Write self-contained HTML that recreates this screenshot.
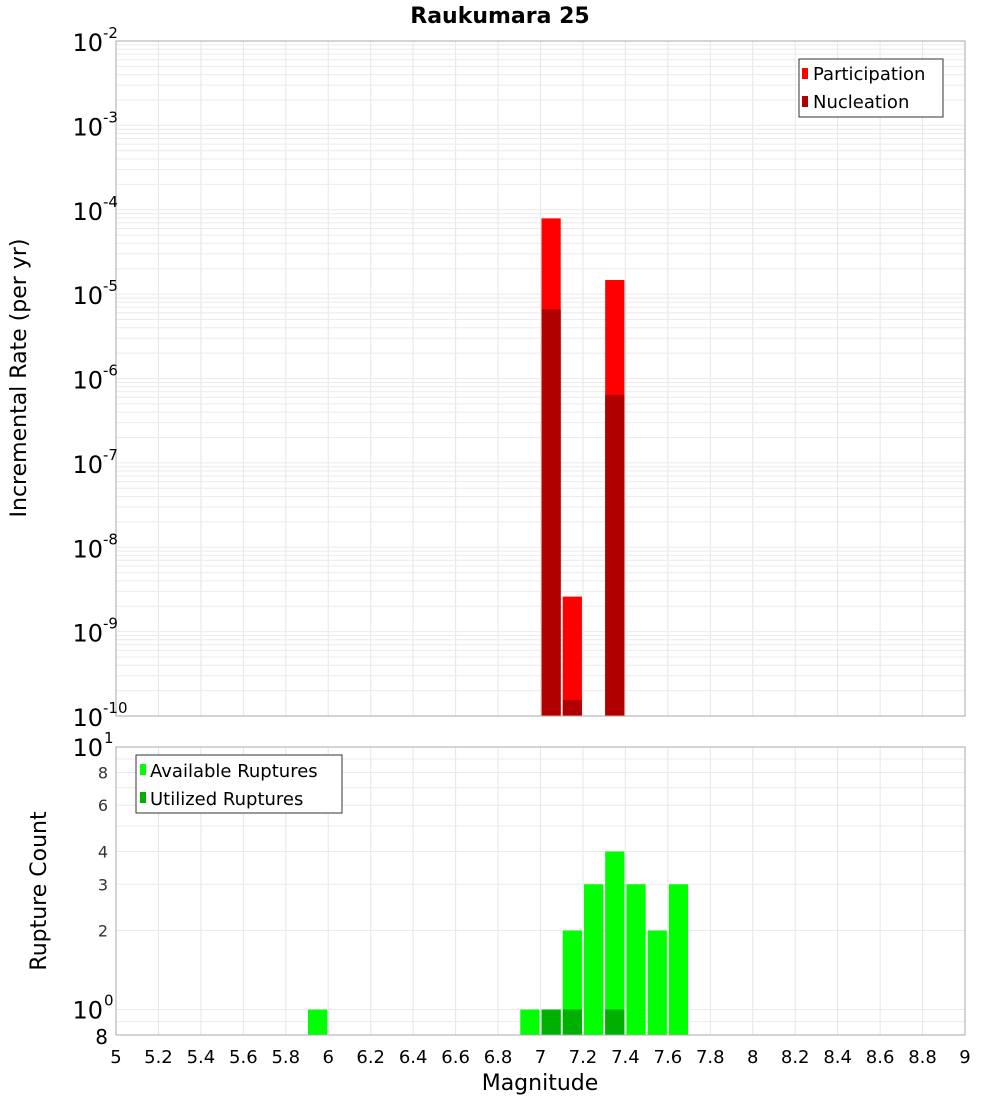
<!DOCTYPE html>
<html><head><meta charset="utf-8"><style>
body{margin:0;background:#fff;font-family:"DejaVu Sans","Liberation Sans",sans-serif}
svg text{font-family:"DejaVu Sans","Liberation Sans",sans-serif}
</style></head><body>
<svg id="c" width="1000" height="1100" xmlns="http://www.w3.org/2000/svg"></svg>
<script>
const mags = [7.05, 7.15, 7.35];
const participation = [7.9e-5, 2.6e-9, 1.47e-5];
const nucleation = [6.6e-6, 1.55e-10, 6.4e-7];
const countMags = [5.95, 6.95, 7.05, 7.15, 7.25, 7.35, 7.45, 7.55, 7.65];
const available = [1, 1, 1, 2, 3, 4, 3, 2, 3];
const utilMags = [7.05, 7.15, 7.35];
const utilized = [1, 1, 1];
const xTicks = ["5","5.2","5.4","5.6","5.8","6","6.2","6.4","6.6","6.8","7","7.2","7.4","7.6","7.8","8","8.2","8.4","8.6","8.8","9"];
const topExps = [-2,-3,-4,-5,-6,-7,-8,-9,-10];
const botMinor = ["8","6","4","3","2"];

const svg = document.getElementById('c');
const NS = 'http://www.w3.org/2000/svg';
function mk(t, a, p){const e=document.createElementNS(NS,t);for(const k in a)e.setAttribute(k,a[k]);(p||svg).appendChild(e);return e;}
const L=116,R=965,T1=41,B1=716,T2=747,B2=1035;
const x = m => L + (m-5)/4*(R-L);
const y1 = v => T1 + (-2 - Math.log10(v))/8*(B1-T1);
const yMin2=0.8, yMax2=10;
const y2 = v => B2 - (Math.log10(v)-Math.log10(yMin2))/(Math.log10(yMax2)-Math.log10(yMin2))*(B2-T2);

// grids
const g = mk('g',{});


for(let m=5;m<=9.001;m+=0.2){
  mk('line',{x1:x(m),x2:x(m),y1:T1,y2:B1,stroke:'#e6e6e6'},g);
  mk('line',{x1:x(m),x2:x(m),y1:T2,y2:B2,stroke:'#e6e6e6'},g);
}
for(let e=-10;e<-2;e++){for(let k=1;k<10;k++){const v=k*Math.pow(10,e);mk('line',{x1:L,x2:R,y1:y1(v),y2:y1(v),stroke:'#ebebeb'},g);}}
for(let k=1;k<=10;k++){mk('line',{x1:L,x2:R,y1:y2(k),y2:y2(k),stroke:'#ebebeb'},g);}
mk('line',{x1:L,x2:R,y1:y2(0.9),y2:y2(0.9),stroke:'#ebebeb'},g);

// top bars
const bw=(R-L)/40;
mags.forEach((m,i)=>{
  const r=mk('rect',{x:x(m)-bw/2+1,y:y1(participation[i]),width:bw-2,height:B1-y1(participation[i]),fill:'#ff0000'});
  
  
  const n=mk('rect',{x:x(m)-bw/2+1,y:y1(nucleation[i]),width:bw-2,height:B1-y1(nucleation[i]),fill:'#b00000'});
  
  
});
countMags.forEach((m,i)=>{
  const r=mk('rect',{x:x(m)-bw/2+1,y:y2(available[i]),width:bw-2,height:B2-y2(available[i]),fill:'#00ff00'});
  
  
});
utilMags.forEach((m,i)=>{
  const r=mk('rect',{x:x(m)-bw/2+1,y:y2(utilized[i]),width:bw-2,height:B2-y2(utilized[i]),fill:'#00b000'});
  
  
});
mk('rect',{x:L,y:T1,width:R-L,height:B1-T1,fill:'none',stroke:'#aaa'});
mk('rect',{x:L,y:T2,width:R-L,height:B2-T2,fill:'none',stroke:'#aaa'});

// top y ticks
topExps.forEach(e=>{
  const yy=y1(Math.pow(10,e));
  const t=mk('text',{x:103,y:yy+10,'font-size':24,'text-anchor':'end'});
  t.textContent='10';
  
  
  const s=mk('text',{x:103,y:yy-3,'font-size':15});
  s.textContent=String(e);
  
  
});
// bottom y ticks
[[10,'1'],[1,'0']].forEach(([v,e])=>{
  const yy=y2(v);
  const t=mk('text',{x:103,y:yy+9,'font-size':24,'text-anchor':'end'});
  t.textContent='10';
  
  
  const s=mk('text',{x:104,y:yy-4,'font-size':15});
  s.textContent=e;
  
  
});
botMinor.forEach(lbl=>{
  const t=mk('text',{x:108,y:y2(+lbl)+6,'font-size':16,'text-anchor':'end',fill:'#333'});
  t.textContent=lbl;
  
  
});
{const t=mk('text',{x:108,y:B2+9,'font-size':20,'text-anchor':'end'});t.textContent='8';

}
// x ticks
xTicks.forEach(lbl=>{
  const t=mk('text',{x:x(+lbl),y:1063,'font-size':18,'text-anchor':'middle'});
  t.textContent=lbl;
  
  
});
</script>
<svg width="1000" height="1100" style="position:absolute;left:0;top:0" xmlns="http://www.w3.org/2000/svg">
<text x="500" y="23" font-size="22" font-weight="bold" text-anchor="middle">Raukumara 25</text>
<text x="540" y="1090" font-size="22" text-anchor="middle">Magnitude</text>
<text transform="translate(26,378) rotate(-90)" font-size="22" text-anchor="middle">Incremental Rate (per yr)</text>
<text transform="translate(46,891) rotate(-90)" font-size="22" text-anchor="middle">Rupture Count</text>
<g>
<rect x="799" y="59" width="144" height="58" fill="#fff" stroke="#333"/>
<rect x="802" y="68" width="6" height="11" fill="#ff0000"/>
<text x="813" y="80" font-size="18">Participation</text>
<rect x="802" y="96" width="6" height="11" fill="#b00000"/>
<text x="813" y="108" font-size="18">Nucleation</text>
</g>
<g>
<rect x="136" y="755" width="206" height="58" fill="#fff" stroke="#333"/>
<rect x="140" y="764" width="6" height="11" fill="#00ff00"/>
<text x="150" y="777" font-size="18">Available Ruptures</text>
<rect x="140" y="792" width="6" height="11" fill="#00b000"/>
<text x="150" y="805" font-size="18">Utilized Ruptures</text>
</g>
</svg>
<style>body{position:relative}</style>
</body></html>
